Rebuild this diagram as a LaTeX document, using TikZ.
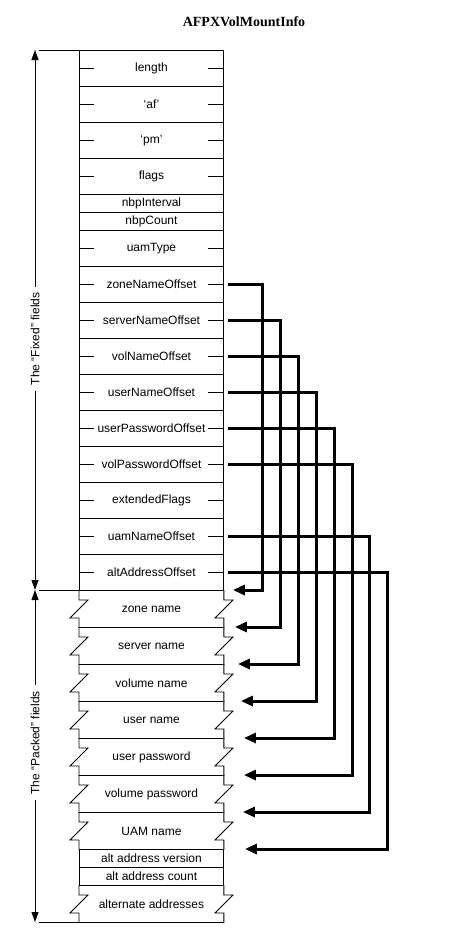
\documentclass[tikz,border=0pt]{standalone}
\usepackage{fontspec}
\setmainfont{Liberation Sans}
\newfontfamily\titlefont{Liberation Serif}
\usetikzlibrary{arrows.meta}

\tikzset{
    field/.style={minimum width=144pt, minimum height=36pt, inner sep=0pt, anchor=north west},
    halffield/.style={field, draw, minimum height=18pt},
    ticked/.style={field, draw, path picture={\draw (path picture bounding box.west) -- ++(15,0) (path picture bounding box.east) -- ++(-15,0);}},
    packed/.style={field, minimum height=37pt},
    link/.style={line width=3pt, line join=miter, -{Triangle[length=12pt,width=10pt]}},
    dim/.style={{Triangle[length=10pt,width=7pt]}-{Triangle[length=10pt,width=7pt]}},
    dimlabel/.style={fill=white, rotate=90, inner xsep=6pt, inner ysep=1pt}
}

\begin{document}
\begin{tikzpicture}[x=1pt, y=-1pt, line width=0.9pt, font=\fontsize{12}{14}\selectfont]
        \useasboundingbox (0,0) rectangle (468,948);
        \node[font=\titlefont\bfseries\fontsize{14}{16}\selectfont] (title) at (244,22) {AFPXVolMountInfo};

        \node[ticked] (len) at (79,50) {length};
        \node[ticked] (af) at (79,86) {‘af’};
        \node[ticked] (pm) at (79,122) {‘pm’};
        \node[ticked] (flags) at (79,158) {flags};
        \node[halffield] (nbpint) at (79,194) {nbpInterval};
        \node[halffield] (nbpcnt) at (79,212) {nbpCount};
        \node[ticked] (uamtype) at (79,230) {uamType};
        \node[ticked] (zoneoff) at (79,266) {zoneNameOffset};
        \node[ticked] (serveroff) at (79,302) {serverNameOffset};
        \node[ticked] (voloff) at (79,338) {volNameOffset};
        \node[ticked] (useroff) at (79,374) {userNameOffset};
        \node[ticked] (upwoff) at (79,410) {userPasswordOffset};
        \node[ticked] (vpwoff) at (79,446) {volPasswordOffset};
        \node[ticked] (extflags) at (79,482) {extendedFlags};
        \node[ticked] (uamoff) at (79,518) {uamNameOffset};
        \node[ticked] (altoff) at (79,554) {altAddressOffset};

        \node[packed] (zone) at (79,590) {zone name};
        \node[packed] (server) at (79,627) {server name};
        \node[packed] (vol) at (79,664) {volume name};
        \node[packed] (user) at (79,701) {user name};
        \node[packed] (upw) at (79,738) {user password};
        \node[packed] (vpw) at (79,775) {volume password};
        \node[packed] (uam) at (79,812) {UAM name};
        \node[halffield] (altver) at (79,849) {alt address version};
        \node[halffield] (altcnt) at (79,867) {alt address count};
        \node[packed] (addrs) at (79,885) {alternate addresses};

        \foreach \f in {zone,server,vol,user,upw,vpw,uam,addrs} {
            \draw (\f.north west) -- (\f.north east);
            \draw (\f.north west) -- ++(0,10) -- ++(9,0) -- ++(-18,18) -- ++(9,0) -- (\f.south west);
            \draw (\f.north east) -- ++(0,10) -- ++(9,0) -- ++(-18,18) -- ++(9,0) -- (\f.south east);
        }
        \draw (addrs.south west) -- (addrs.south east);
        \draw (len.north west) -- ++(-40,0);
        \draw (zone.north west) -- ++(-40,0);
        \draw (addrs.south west) -- ++(-40,0);

        \coordinate (ftop) at (35,50);
        \coordinate (fbot) at (35,590);
        \coordinate (pbot) at (35,922);
        \draw[dim] (ftop) -- (fbot) node[pos=.535, dimlabel] {The “Fixed” fields};
        \draw[dim] (fbot) -- (pbot) node[pos=.46, dimlabel] {The “Packed” fields};

        \draw[link] ([xshift=4pt]zoneoff.east) -- ++(35,0) |- ([xshift=9pt]zone.north east);
        \draw[link] ([xshift=4pt]serveroff.east) -- ++(53,0) |- ([xshift=11pt]server.north east);
        \draw[link] ([xshift=4pt]voloff.east) -- ++(71,0) |- ([xshift=14pt]vol.north east);
        \draw[link] ([xshift=4pt]useroff.east) -- ++(89,0) |- ([xshift=17pt]user.north east);
        \draw[link] ([xshift=4pt]upwoff.east) -- ++(107,0) |- ([xshift=20pt]upw.north east);
        \draw[link] ([xshift=4pt]vpwoff.east) -- ++(125,0) |- ([xshift=20pt]vpw.north east);
        \draw[link] ([xshift=4pt]uamoff.east) -- ++(142,0) |- ([xshift=19pt]uam.north east);
        \draw[link] ([xshift=4pt]altoff.east) -- ++(160,0) |- ([xshift=21pt]altver.north east);
\end{tikzpicture}
\end{document}
